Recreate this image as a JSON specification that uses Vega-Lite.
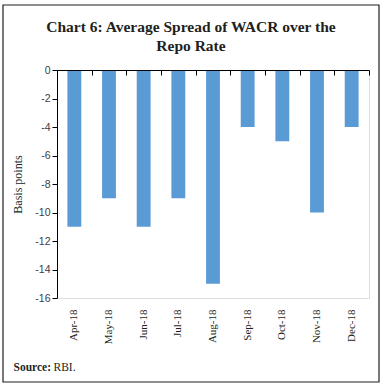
{
  "$schema": "https://vega.github.io/schema/vega-lite/v6.json",
  "width": 312,
  "height": 228,
  "autosize": {"type": "none"},
  "padding": {"left": 57, "top": 70, "right": 15, "bottom": 89},
  "background": "white",
  "title": {
    "text": ["Chart 6: Average Spread of WACR over the", "Repo Rate"],
    "font": "Liberation Serif",
    "fontSize": 15.5,
    "fontWeight": "bold",
    "color": "#231f20",
    "anchor": "middle",
    "frame": "group",
    "dx": -22,
    "offset": -50,
    "lineHeight": 19
  },
  "data": {
    "values": [
      {"month": "Apr-18", "spread": -11},
      {"month": "May-18", "spread": -9},
      {"month": "Jun-18", "spread": -11},
      {"month": "Jul-18", "spread": -9},
      {"month": "Aug-18", "spread": -15},
      {"month": "Sep-18", "spread": -4},
      {"month": "Oct-18", "spread": -5},
      {"month": "Nov-18", "spread": -10},
      {"month": "Dec-18", "spread": -4}
    ]
  },
  "layer": [
    {
      "data": {"values": [{}]},
      "mark": {"type": "rect", "fillOpacity": 0, "stroke": "#231f20", "strokeWidth": 1.2},
      "encoding": {
        "x": {"value": -54},
        "x2": {"value": 322},
        "y": {"value": -65},
        "y2": {"value": 312}
      }
    },
    {
      "mark": {"type": "bar", "color": "#5B9BD5", "width": {"band": 0.4}},
      "encoding": {
        "x": {
          "field": "month",
          "type": "nominal",
          "sort": null,
          "scale": {"paddingInner": 0, "paddingOuter": 0},
          "axis": {
            "orient": "bottom",
            "offset": -228,
            "labels": false,
            "ticks": true,
            "domain": true,
            "domainColor": "#000000",
            "tickColor": "#000000",
            "tickWidth": 1,
            "tickSize": 5,
            "tickBand": "extent",
            "zindex": 1,
            "title": "RBI.",
            "titleFont": "Liberation Serif",
            "titleFontSize": 11.5,
            "titleFontWeight": "normal",
            "titleColor": "#231f20",
            "titleAnchor": "start",
            "titleAlign": "left",
            "titleBaseline": "alphabetic",
            "titleX": -4,
            "titleY": 300
          }
        },
        "y": {
          "field": "spread",
          "type": "quantitative",
          "scale": {"domain": [-16, 0], "nice": false},
          "axis": {
            "values": [0, -2, -4, -6, -8, -10, -12, -14, -16],
            "labelExpr": "datum.value + ''",
            "grid": false,
            "domainColor": "#000000",
            "tickColor": "#000000",
            "tickSize": 5,
            "labelFont": "Liberation Sans",
            "labelFontSize": 10.5,
            "labelColor": "#404040",
            "labelPadding": 2,
            "title": "Basis points",
            "titleFont": "Liberation Serif",
            "titleFontSize": 12,
            "titleFontWeight": "normal",
            "titleColor": "#231f20",
            "titlePadding": 10,
            "zindex": 1
          }
        }
      }
    },
    {
      "mark": {"type": "bar", "opacity": 0},
      "encoding": {
        "x": {
          "field": "month",
          "type": "nominal",
          "sort": null,
          "axis": {
            "orient": "top",
            "offset": -228,
            "domain": false,
            "ticks": false,
            "labelAngle": -90,
            "labelAlign": "right",
            "labelBaseline": "middle",
            "labelFont": "Liberation Serif",
            "labelFontSize": 11,
            "labelColor": "#231f20",
            "labelPadding": -11,
            "title": "Source:",
            "titleFont": "Liberation Serif",
            "titleFontSize": 11.5,
            "titleFontWeight": "bold",
            "titleColor": "#231f20",
            "titleAnchor": "start",
            "titleAlign": "left",
            "titleBaseline": "alphabetic",
            "titleX": -44,
            "titleY": 72
          }
        }
      }
    }
  ],
  "resolve": {"axis": {"x": "independent"}}
}
